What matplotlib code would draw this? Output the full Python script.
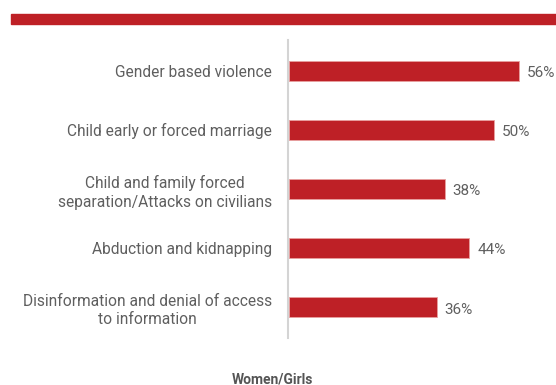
import matplotlib.pyplot as plt
from matplotlib.patches import Rectangle

plt.rcParams["font.family"] = ["Roboto", "DejaVu Sans"]

categories = [
    "Gender based violence",
    "Child early or forced marriage",
    "Child and family forced\nseparation/Attacks on civilians",
    "Abduction and kidnapping",
    "Disinformation and denial of access\nto information",
]
values = [56, 50, 38, 44, 36]
group_label = "Women/Girls"

red = "#be2026"
text_grey = "#5f5f5f"

W, H = 556, 385
fig = plt.figure(figsize=(W / 100, H / 100), dpi=100)

# red band across the top
fig.patches.append(Rectangle((11 / W, 1 - 24 / H), 1 - 11 / W, 10 / H,
                             transform=fig.transFigure, color=red, zorder=0))

ax = fig.add_axes([288 / W, 1 - 338 / H, 1 - 288 / W, 298 / H])
pos = list(range(len(categories)))
ax.barh(pos, values, height=0.34, color=red, edgecolor="#e8a0a0", linewidth=0.6)
ax.set_xlim(-0.2, 65.1)
ax.set_ylim(4.52, -0.52)

for p, v in zip(pos, values):
    ax.text(v + 1.9, p + 0.04, f"{v}%", va="center", ha="left",
            fontsize=11, color=text_grey)

ax.set_yticks(pos)
ax.set_yticklabels(categories, fontsize=11.2, color=text_grey,
                   multialignment="center", linespacing=1.3)
ax.tick_params(axis="y", length=0, pad=11.5)
ax.set_xticks([])
for side in ["top", "right", "bottom"]:
    ax.spines[side].set_visible(False)
ax.spines["left"].set_color("#d4d4d4")
ax.spines["left"].set_linewidth(1.5)

fig.text(272.5 / W, 1 - 379 / H, group_label, ha="center", va="center",
         fontsize=10, fontweight="bold", color="#555555")

fig.savefig("out.png", dpi=100)
